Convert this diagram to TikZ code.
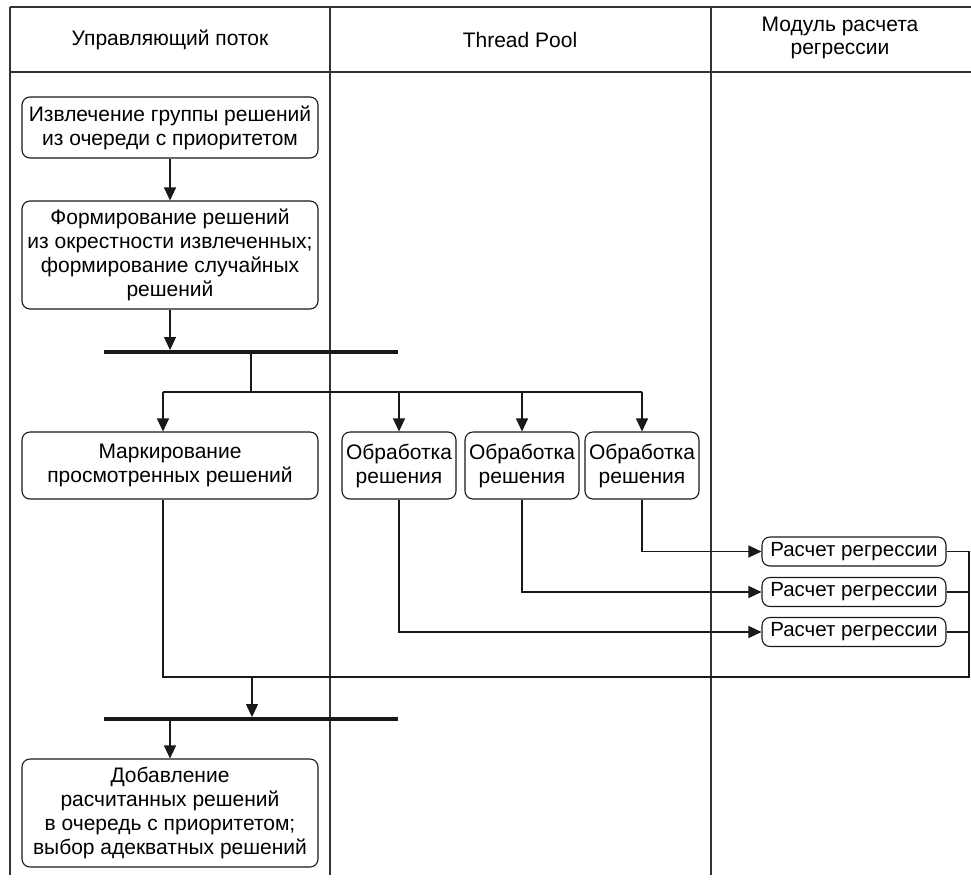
\documentclass[tikz,border=0pt]{standalone}
\usepackage{fontspec}
\setmainfont{Liberation Sans}
\usetikzlibrary{arrows.meta}
\tikzset{
  box/.style={draw=black!90, line width=1.1pt, rounded corners=8pt, align=center, inner sep=2pt, font=\fontsize{21}{24}\selectfont},
  hdr/.style={align=center, font=\fontsize{21}{23.5}\selectfont},
  bar/.style={fill=black!90, inner sep=0pt, minimum height=3.5pt, draw=none},
  lane/.style={draw=black!80, line width=1.2pt},
  conn/.style={draw=black!90, line width=1.1pt},
  arr/.style={conn, -{Triangle[length=13pt,width=12pt]}},
}
\begin{document}
\begin{tikzpicture}[x=1pt,y=-1pt]
\useasboundingbox (0,0) rectangle (971,884);
% lanes
\draw[lane] (10,7) -- (971,7);
\draw[lane] (10,72) -- (971,72);
\draw[lane] (10,7) -- (10,875);
\draw[lane] (330,7) -- (330,875);
\draw[lane] (711,7) -- (711,875);
% headers
\node[hdr] (h1) at (170,40) {Управляющий поток};
\node[hdr] (h2) at (520,40) {Thread Pool};
\node[hdr] (h3) at (840,38) {Модуль расчета\\регрессии};
% boxes
\node[box, minimum width=296pt, minimum height=61pt] (b1) at (170,127.5) {Извлечение группы решений\\из очереди с приоритетом};
\node[box, minimum width=296pt, minimum height=108pt] (b2) at (170,255) {Формирование решений\\из окрестности извлеченных;\\формирование случайных\\решений};
\node[bar, minimum width=294pt] (f1) at (251,352) {};
\node[box, minimum width=296pt, minimum height=67pt] (m) at (170,465.5) {Маркирование\\просмотренных решений};
\node[box, minimum width=114pt, minimum height=67pt, inner sep=1pt] (oA) at (399,465.5) {Обработка\\решения};
\node[box, minimum width=114pt, minimum height=67pt, inner sep=1pt] (oB) at (522,465.5) {Обработка\\решения};
\node[box, minimum width=114pt, minimum height=67pt, inner sep=1pt] (oC) at (642,465.5) {Обработка\\решения};
\node[box, minimum width=184pt, minimum height=29pt, inner sep=1pt, font=\fontsize{20.5}{23}\selectfont] (r1) at (854,551.5) {Расчет регрессии};
\node[box, minimum width=184pt, minimum height=29pt, inner sep=1pt, font=\fontsize{20.5}{23}\selectfont] (r2) at (854,592) {Расчет регрессии};
\node[box, minimum width=184pt, minimum height=29pt, inner sep=1pt, font=\fontsize{20.5}{23}\selectfont] (r3) at (854,632) {Расчет регрессии};
\node[bar, minimum width=294pt] (f2) at (251,719) {};
\node[box, minimum width=296pt, minimum height=108pt] (d) at (170,813) {Добавление\\расчитанных решений\\в очередь с приоритетом;\\выбор адекватных решений};
% coordinates
\coordinate (split) at (251,392);
\coordinate (ret) at (969,677);
\coordinate (join) at (252,677);
\coordinate (mtop) at (163,392);
% connectors
\draw[arr] (b1) -- (b2);
\draw[arr] (b2.south) -- (b2.south |- f1.north);
\draw[conn] (f1.south -| split) -- (split);
\draw[conn] (mtop) -- (oC.north |- split);
\draw[arr] (mtop) -- (mtop |- m.north);
\draw[arr] (oA.north |- split) -- (oA.north);
\draw[arr] (oB.north |- split) -- (oB.north);
\draw[arr] (oC.north |- split) -- (oC.north);
\draw[arr] (oC.south) |- (r1.west);
\draw[arr] (oB.south) |- (r2.west);
\draw[arr] (oA.south) |- (r3.west);
\draw[conn] (r1.east) -| (ret) -| (mtop |- m.south);
\draw[conn] (r2.east) -- (r2.east -| ret);
\draw[conn] (r3.east) -- (r3.east -| ret);
\draw[arr] (join) -- (join |- f2.north);
\draw[arr] (f2.south -| d.north) -- (d.north);
\end{tikzpicture}
\end{document}
